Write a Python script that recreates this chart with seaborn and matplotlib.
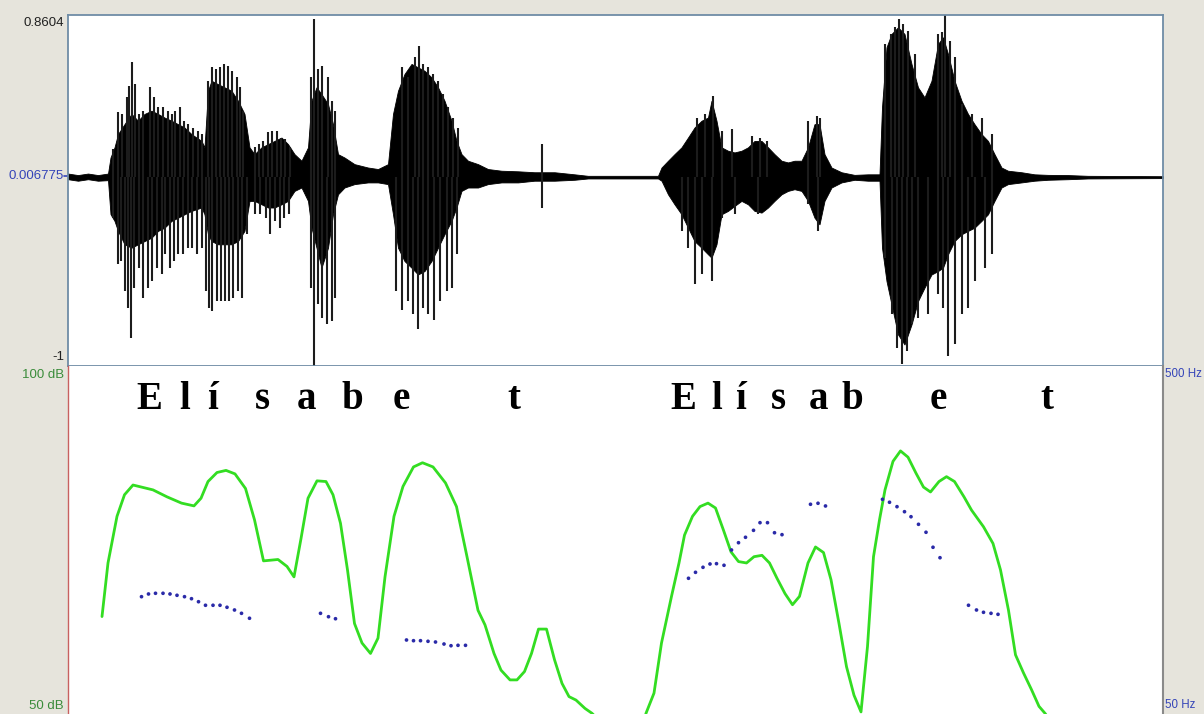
import numpy as np
import pandas as pd
import matplotlib
matplotlib.use("Agg")
import matplotlib.pyplot as plt
import matplotlib.transforms as mtransforms
import seaborn as sns

# ---------------- data ----------------
T_END = 2.19  # seconds shown

# waveform dense core envelope (time s, upper amp, lower amp)
wave_t = [0.000, 0.020, 0.040, 0.060, 0.080, 0.085, 0.093, 0.100, 0.113, 0.127, 0.140, 0.153, 0.167,
          0.180, 0.193, 0.207, 0.220, 0.233, 0.247, 0.267, 0.273, 0.280, 0.287, 0.300, 0.313, 0.327,
          0.340, 0.353, 0.363, 0.373, 0.387, 0.400, 0.413, 0.427, 0.440, 0.453, 0.467, 0.480, 0.487,
          0.497, 0.507, 0.520, 0.530, 0.540, 0.553, 0.573, 0.600, 0.620, 0.640, 0.650, 0.660, 0.673,
          0.687, 0.700, 0.713, 0.727, 0.740, 0.753, 0.767, 0.777, 0.787, 0.800, 0.820, 0.840, 0.867,
          0.900, 0.933, 0.973, 1.013, 1.040, 1.180, 1.187, 1.200, 1.213, 1.227, 1.240, 1.253, 1.267,
          1.280, 1.287, 1.297, 1.307, 1.320, 1.333, 1.347, 1.360, 1.373, 1.387, 1.400, 1.413, 1.427,
          1.440, 1.453, 1.467, 1.480, 1.493, 1.503, 1.513, 1.527, 1.547, 1.573, 1.600, 1.623, 1.628,
          1.637, 1.647, 1.660, 1.673, 1.687, 1.700, 1.713, 1.727, 1.740, 1.750, 1.760, 1.773, 1.787,
          1.800, 1.813, 1.827, 1.840, 1.853, 1.867, 1.880, 1.907, 1.933, 1.960, 2.000, 2.040, 2.190]
wave_top = [0.020, 0.012, 0.020, 0.012, 0.020, 0.105, 0.159, 0.229, 0.282, 0.336, 0.300, 0.336, 0.353,
            0.336, 0.317, 0.300, 0.282, 0.264, 0.229, 0.193, 0.159, 0.459, 0.512, 0.494, 0.477, 0.459,
            0.406, 0.336, 0.159, 0.123, 0.159, 0.176, 0.193, 0.211, 0.176, 0.123, 0.088, 0.159, 0.406,
            0.477, 0.441, 0.388, 0.282, 0.123, 0.105, 0.070, 0.052, 0.044, 0.070, 0.336, 0.459, 0.548,
            0.601, 0.583, 0.565, 0.530, 0.477, 0.406, 0.300, 0.193, 0.123, 0.088, 0.070, 0.044, 0.035,
            0.032, 0.027, 0.027, 0.016, 0.008, 0.008, 0.052, 0.088, 0.123, 0.159, 0.211, 0.264, 0.300,
            0.317, 0.406, 0.300, 0.159, 0.141, 0.132, 0.141, 0.159, 0.193, 0.193, 0.159, 0.123, 0.088,
            0.079, 0.088, 0.088, 0.159, 0.282, 0.282, 0.123, 0.052, 0.027, 0.013, 0.016, 0.016, 0.371,
            0.689, 0.760, 0.795, 0.760, 0.601, 0.477, 0.424, 0.512, 0.707, 0.742, 0.654, 0.512, 0.406,
            0.336, 0.282, 0.229, 0.193, 0.123, 0.052, 0.035, 0.027, 0.016, 0.013, 0.012, 0.008, 0.006]
wave_bot = [-0.010, -0.018, -0.010, -0.018, -0.015, -0.195, -0.231, -0.284, -0.355, -0.373, -0.355, -0.338, -0.320,
            -0.284, -0.267, -0.231, -0.214, -0.196, -0.178, -0.160, -0.196, -0.302, -0.338, -0.355, -0.355, -0.355,
            -0.338, -0.284, -0.125, -0.125, -0.143, -0.160, -0.160, -0.143, -0.125, -0.072, -0.054, -0.125, -0.267,
            -0.373, -0.479, -0.373, -0.196, -0.090, -0.054, -0.036, -0.027, -0.027, -0.036, -0.196, -0.373, -0.444,
            -0.479, -0.515, -0.497, -0.444, -0.373, -0.302, -0.231, -0.160, -0.072, -0.054, -0.054, -0.036, -0.027,
            -0.027, -0.018, -0.018, -0.013, -0.006, -0.006, -0.018, -0.090, -0.143, -0.196, -0.267, -0.338, -0.373,
            -0.408, -0.426, -0.355, -0.196, -0.178, -0.152, -0.125, -0.143, -0.178, -0.187, -0.160, -0.125, -0.090,
            -0.072, -0.063, -0.072, -0.125, -0.214, -0.249, -0.125, -0.054, -0.027, -0.013, -0.018, -0.018, -0.373,
            -0.550, -0.673, -0.833, -0.886, -0.780, -0.656, -0.585, -0.515, -0.497, -0.479, -0.408, -0.338, -0.302,
            -0.284, -0.267, -0.231, -0.196, -0.125, -0.054, -0.036, -0.027, -0.018, -0.013, -0.010, -0.006, -0.004]

# individual glottal-pulse peaks sticking out of the core (time s, amplitude)
spikes_up = [(0.090, 0.149), (0.099, 0.344), (0.107, 0.336), (0.117, 0.424), (0.122, 0.486), (0.127, 0.609),
             (0.133, 0.495), (0.142, 0.336), (0.150, 0.353), (0.163, 0.477), (0.172, 0.424), (0.180, 0.371),
             (0.190, 0.371), (0.199, 0.353), (0.207, 0.336), (0.213, 0.353), (0.223, 0.371), (0.232, 0.300),
             (0.240, 0.282), (0.250, 0.264), (0.260, 0.247), (0.268, 0.229), (0.280, 0.513), (0.287, 0.583),
             (0.295, 0.574), (0.303, 0.583), (0.312, 0.601), (0.320, 0.592), (0.328, 0.565), (0.337, 0.530),
             (0.343, 0.477), (0.350, 0.353), (0.373, 0.159), (0.381, 0.176), (0.390, 0.193), (0.400, 0.238),
             (0.408, 0.247), (0.417, 0.247), (0.425, 0.211), (0.433, 0.203), (0.443, 0.159), (0.485, 0.530),
             (0.492, 0.840), (0.499, 0.574), (0.508, 0.592), (0.519, 0.530), (0.527, 0.406), (0.533, 0.353),
             (0.667, 0.583), (0.680, 0.530), (0.693, 0.636), (0.702, 0.698), (0.710, 0.601), (0.720, 0.583),
             (0.730, 0.548), (0.740, 0.513), (0.750, 0.441), (0.760, 0.371), (0.770, 0.317), (0.780, 0.264),
             (0.948, 0.176), (1.257, 0.317), (1.273, 0.336), (1.290, 0.432), (1.307, 0.247), (1.327, 0.256),
             (1.367, 0.220), (1.383, 0.211), (1.397, 0.193), (1.480, 0.300), (1.497, 0.326), (1.503, 0.317),
             (1.633, 0.707), (1.645, 0.760), (1.653, 0.795), (1.662, 0.840), (1.670, 0.813), (1.680, 0.778),
             (1.693, 0.654), (1.740, 0.760), (1.747, 0.769), (1.753, 0.866), (1.763, 0.725), (1.773, 0.636),
             (1.787, 0.388), (1.807, 0.336), (1.827, 0.317), (1.847, 0.229)]
spikes_down = [(0.089, -0.213), (0.099, -0.461), (0.105, -0.444), (0.113, -0.603), (0.120, -0.691), (0.125, -0.851),
               (0.132, -0.585), (0.141, -0.479), (0.150, -0.638), (0.159, -0.585), (0.167, -0.550), (0.177, -0.479),
               (0.187, -0.515), (0.193, -0.408), (0.203, -0.479), (0.212, -0.444), (0.220, -0.408), (0.230, -0.408),
               (0.239, -0.373), (0.248, -0.373), (0.257, -0.408), (0.267, -0.373), (0.275, -0.603), (0.281, -0.691),
               (0.288, -0.709), (0.297, -0.656), (0.305, -0.656), (0.313, -0.656), (0.321, -0.656), (0.330, -0.638),
               (0.339, -0.603), (0.347, -0.638), (0.357, -0.302), (0.373, -0.196), (0.383, -0.196), (0.395, -0.214),
               (0.403, -0.302), (0.413, -0.231), (0.423, -0.267), (0.432, -0.214), (0.441, -0.196), (0.485, -0.585),
               (0.492, -1.000), (0.500, -0.673), (0.508, -0.744), (0.517, -0.780), (0.527, -0.762), (0.533, -0.638),
               (0.655, -0.603), (0.667, -0.701), (0.680, -0.656), (0.690, -0.727), (0.700, -0.806), (0.710, -0.691),
               (0.720, -0.727), (0.732, -0.754), (0.743, -0.656), (0.757, -0.603), (0.767, -0.585), (0.777, -0.408),
               (0.948, -0.160), (1.227, -0.284), (1.240, -0.373), (1.253, -0.567), (1.267, -0.515), (1.287, -0.550),
               (1.307, -0.214), (1.333, -0.196), (1.380, -0.196), (1.480, -0.143), (1.500, -0.284), (1.633, -0.426),
               (1.647, -0.727), (1.657, -0.904), (1.667, -0.992), (1.677, -0.921), (1.687, -0.780), (1.700, -0.744),
               (1.720, -0.727), (1.740, -0.620), (1.750, -0.691), (1.760, -0.948), (1.773, -0.886), (1.787, -0.727),
               (1.800, -0.691), (1.813, -0.550), (1.833, -0.479), (1.847, -0.408)]

# intensity contour (dB), two voiced stretches
int1_t = [0.068, 0.080, 0.098, 0.113, 0.130, 0.170, 0.198, 0.227, 0.252, 0.266, 0.280, 0.298, 0.316, 0.334,
          0.355, 0.373, 0.391, 0.420, 0.438, 0.452, 0.466, 0.480, 0.498, 0.516, 0.530, 0.545, 0.559, 0.573,
          0.588, 0.605, 0.620, 0.634, 0.652, 0.670, 0.691, 0.709, 0.730, 0.755, 0.777, 0.798, 0.820, 0.834,
          0.852, 0.866, 0.884, 0.898, 0.913, 0.927, 0.941, 0.957, 0.973, 0.988, 1.002, 1.016, 1.034, 1.048, 1.070]
int1_db = [64.0, 71.7, 78.4, 81.5, 82.9, 82.2, 81.2, 80.3, 79.9, 81.0, 83.4, 84.7, 85.0, 84.5,
           82.4, 77.9, 72.0, 72.2, 71.2, 69.7, 75.2, 81.0, 83.5, 83.4, 81.5, 77.4, 70.7, 63.0,
           60.2, 58.7, 60.9, 69.7, 78.4, 82.7, 85.5, 86.1, 85.5, 83.2, 79.8, 72.6, 64.9, 62.8,
           58.7, 56.3, 54.9, 54.9, 56.1, 58.7, 62.2, 62.2, 57.8, 54.4, 52.5, 52.0, 50.8, 50.1, 48.5]
int2_t = [1.150, 1.156, 1.172, 1.187, 1.207, 1.222, 1.233, 1.249, 1.264, 1.280, 1.295, 1.311, 1.326, 1.341,
          1.357, 1.372, 1.388, 1.403, 1.418, 1.434, 1.449, 1.463, 1.480, 1.495, 1.511, 1.526, 1.542, 1.557,
          1.572, 1.586, 1.599, 1.611, 1.623, 1.634, 1.650, 1.665, 1.680, 1.696, 1.711, 1.725, 1.742, 1.757,
          1.773, 1.792, 1.807, 1.831, 1.850, 1.865, 1.881, 1.895, 1.911, 1.927, 1.942, 1.954, 1.970]
int2_db = [48.5, 50.1, 53.0, 60.2, 66.9, 71.7, 75.7, 78.4, 79.8, 80.3, 79.6, 76.4, 73.3, 71.9,
           71.7, 72.6, 72.8, 71.7, 69.5, 67.3, 65.7, 66.9, 71.7, 74.0, 73.2, 69.3, 63.0, 56.8,
           52.7, 50.3, 59.7, 72.6, 77.9, 82.2, 86.3, 87.8, 86.9, 84.6, 82.6, 81.9, 83.4, 84.1,
           83.4, 81.2, 79.3, 76.9, 74.5, 70.7, 64.9, 58.5, 55.9, 53.5, 51.1, 50.1, 48.5]

# pitch track (Hz)
pitch_t = [0.147, 0.161, 0.175, 0.190, 0.204, 0.218, 0.233, 0.247, 0.261, 0.275, 0.290, 0.304, 0.318, 0.333,
           0.347, 0.363, 0.505, 0.521, 0.535, 0.677, 0.691, 0.705, 0.720, 0.735, 0.752, 0.766, 0.780, 0.795,
           1.241, 1.255, 1.270, 1.284, 1.297, 1.312, 1.327, 1.341, 1.355, 1.371, 1.384, 1.399, 1.413, 1.428,
           1.485, 1.500, 1.515, 1.629, 1.643, 1.658, 1.673, 1.686, 1.701, 1.716, 1.730, 1.744,
           1.801, 1.817, 1.831, 1.846, 1.860]
pitch_hz = [201.7, 205.2, 206.1, 206.1, 205.2, 203.5, 201.7, 199.1, 195.2, 190.6, 190.6, 190.6, 188.0, 184.5,
            180.2, 173.8, 180.2, 175.8, 173.2, 145.7, 144.8, 144.8, 144.0, 143.1, 140.5, 138.3, 138.8, 138.8,
            225.5, 233.2, 239.7, 244.0, 244.4, 242.3, 262.1, 271.5, 278.5, 287.5, 297.4, 297.4, 284.4, 281.9,
            321.2, 322.5, 319.0, 327.6, 323.8, 318.1, 311.6, 305.1, 295.3, 285.0, 265.6, 252.1,
            190.6, 184.5, 181.5, 180.2, 178.9]

# orthographic letters and their time positions
word1_letters = ["E", "l", "í", "s", "a", "b", "e", "t"]
word1_t = [0.162, 0.234, 0.290, 0.388, 0.478, 0.568, 0.666, 0.892]
word2_letters = ["E", "l", "í", "s", "a", "b", "e", "t"]
word2_t = [1.230, 1.298, 1.346, 1.420, 1.500, 1.568, 1.740, 1.958]
LETTER_DB = 93.8

amp_labels = ["0.8604", "0.006775", "-1"]
amp_vals = [0.8604, 0.006775, -1.0]
db_labels = ["100 dB", "50 dB"]
db_vals = [100, 50]
hz_labels = ["500 Hz", "50 Hz"]
hz_vals = [500, 50]

# ---------------- style ----------------
sns.set_theme(style="white")
plt.rcParams['font.family'] = ['Liberation Sans', 'DejaVu Sans']

BG = '#e6e4dc'
W, H = 1204, 714
fig = plt.figure(figsize=(W / 100, H / 100), dpi=100, facecolor=BG)
L, R = 68, 1163
ax_w = fig.add_axes([L / W, (H - 366) / H, (R - L) / W, 351 / H])
ax_i = fig.add_axes([L / W, 0, (R - L) / W, 348 / H])
ax_p = ax_i.twinx()

for a in (ax_w, ax_i, ax_p):
    a.set_xlim(0, T_END)
    a.set_xticks([])
    a.set_yticks([])
ax_w.set_facecolor('white')
ax_i.set_facecolor('white')

# ---------------- waveform ----------------
ax_w.fill_between(wave_t, wave_bot, wave_top, color='black', lw=0.6, edgecolor='black')
su = pd.DataFrame(spikes_up, columns=['t', 'a'])
sd = pd.DataFrame(spikes_down, columns=['t', 'a'])
ax_w.vlines(su['t'], 0, su['a'], color='#1c1c1c', lw=1.5)
ax_w.vlines(sd['t'], 0, sd['a'], color='#1c1c1c', lw=1.5)
ax_w.set_ylim(-1.0, 0.8604)
for s in ax_w.spines.values():
    s.set_color('#6f8ca6')
    s.set_linewidth(1.3)

# ---------------- intensity & pitch ----------------
green = '#33dd22'
sns.lineplot(x=int1_t, y=int1_db, ax=ax_i, color=green, lw=2.0, sort=False, estimator=None)
sns.lineplot(x=int2_t, y=int2_db, ax=ax_i, color=green, lw=2.0, sort=False, estimator=None)
ax_i.set_ylim(50, 100)
ax_i.set_xlim(0, T_END)

sns.scatterplot(x=pitch_t, y=pitch_hz, ax=ax_p, color='#2a2aa8', s=7, edgecolor='none', linewidth=0)
ax_p.set_ylim(50, 500)
ax_p.set_xlim(0, T_END)
ax_p.set_ylabel('')
ax_i.set_ylabel('')

for s in ax_p.spines.values():
    s.set_visible(False)
ax_i.spines['top'].set_visible(False)
ax_i.spines['bottom'].set_visible(False)
ax_i.spines['left'].set_color('#c86060')
ax_i.spines['left'].set_linewidth(1.0)
ax_i.spines['right'].set_color('#8a8a8a')
ax_i.spines['right'].set_linewidth(1.5)

for letters, ts in ((word1_letters, word1_t), (word2_letters, word2_t)):
    for ch, t in zip(letters, ts):
        ax_i.text(t, LETTER_DB, ch, ha='center', va='baseline', fontsize=28, fontweight='bold',
                  family=['Liberation Serif', 'DejaVu Serif'], color='black')

# ---------------- axis labels (Praat style) ----------------
fs = 9.5
blue = '#3444b8'
dgreen = '#3a8c3a'
offs = {0: (-4, -8), 1: (-4, 0), 2: (-4, 9)}
cols = {0: '#202020', 1: blue, 2: '#202020'}
for i, (lab, v) in enumerate(zip(amp_labels, amp_vals)):
    ax_w.annotate(lab, xy=(0, v), xycoords=('axes fraction', 'data'), xytext=offs[i],
                  textcoords='offset pixels', ha='right', va='center', fontsize=fs, color=cols[i])
tr = mtransforms.blended_transform_factory(ax_w.transAxes, ax_w.transData)
ax_w.plot([-0.004, 0], [amp_vals[1]] * 2, transform=tr, clip_on=False, color=blue, lw=1.2)

for lab, v, dy in zip(db_labels, db_vals, (-9, 8)):
    ax_i.annotate(lab, xy=(0, v), xycoords=('axes fraction', 'data'), xytext=(-4, dy),
                  textcoords='offset pixels', ha='right', va='center', fontsize=fs, color=dgreen)
for lab, v, dy in zip(hz_labels, hz_vals, (-8, 9)):
    ax_p.annotate(lab, xy=(1, v), xycoords=('axes fraction', 'data'), xytext=(2, dy),
                  textcoords='offset pixels', ha='left', va='center', fontsize=8.3, color=blue)

fig.savefig('out.png', dpi=100, facecolor=BG)
